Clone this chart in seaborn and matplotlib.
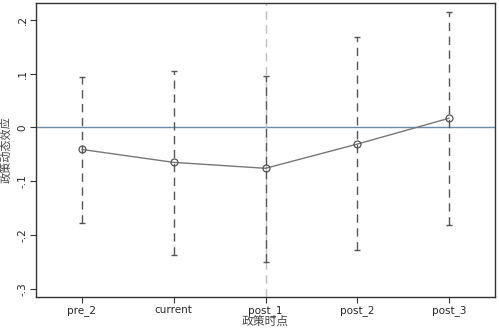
import pandas as pd
import numpy as np
import matplotlib.pyplot as plt
import seaborn as sns

# Data
periods = ['pre_2', 'current', 'post_1', 'post_2', 'post_3']
coef = [-0.041, -0.065, -0.076, -0.031, 0.017]
ci_low = [-0.178, -0.237, -0.250, -0.228, -0.181]
ci_high = [0.093, 0.104, 0.096, 0.167, 0.215]

df = pd.DataFrame({'period': periods, 'coef': coef, 'lo': ci_low, 'hi': ci_high})
df['pos'] = np.arange(1, len(periods) + 1)

sns.set_style('white')
plt.rcParams['font.family'] = ['DejaVu Sans']

fig = plt.figure(figsize=(4.99, 3.28), dpi=100)
ax = fig.add_axes([0.0721, 0.0945, 0.92, 0.8964])

# reference lines
ax.axhline(0, color='#6a8aa5', lw=1.0, zorder=1)
ax.axvline(3, color='#b8c0c4', lw=1.0, ls=(0, (6, 4)), zorder=1)

# confidence intervals
eb = ax.errorbar(df['pos'], df['coef'],
                 yerr=[df['coef'] - df['lo'], df['hi'] - df['coef']],
                 fmt='none', ecolor='#555555', elinewidth=1.0,
                 capsize=2.5, capthick=1.0, zorder=2)
eb[2][0].set_linestyle((0, (6, 4)))

# point estimates
sns.lineplot(data=df, x='pos', y='coef', ax=ax, color='#777777', lw=1.0,
             marker='o', markersize=5, markerfacecolor='none',
             markeredgecolor='#555555', markeredgewidth=0.9, zorder=3)

ax.set_xlim(0.5, 5.5)
ax.set_ylim(-0.315, 0.231)
ax.set_xticks(df['pos'])
ax.set_xticklabels(periods, fontsize=7.5)
ax.set_yticks([0.2, 0.1, 0, -0.1, -0.2, -0.3])
ax.set_yticklabels(['.2', '.1', '0', '-.1', '-.2', '-.3'], rotation=90,
                   va='center', fontsize=7.5)
ax.tick_params(axis='both', length=4, width=0.8, color='#333333', pad=2,
               bottom=True, left=True)

ax.set_xlabel('政策时点', family=['Noto Sans CJK SC', 'DejaVu Sans'],
              fontsize=8.5, color='#444444', labelpad=-1)
ax.set_ylabel('政策动态效应', family=['Noto Sans CJK SC', 'DejaVu Sans'],
              fontsize=8, color='#444444', labelpad=4)

for s in ax.spines.values():
    s.set_color('#333333')
    s.set_linewidth(1.0)

fig.savefig('out.png', dpi=100)
